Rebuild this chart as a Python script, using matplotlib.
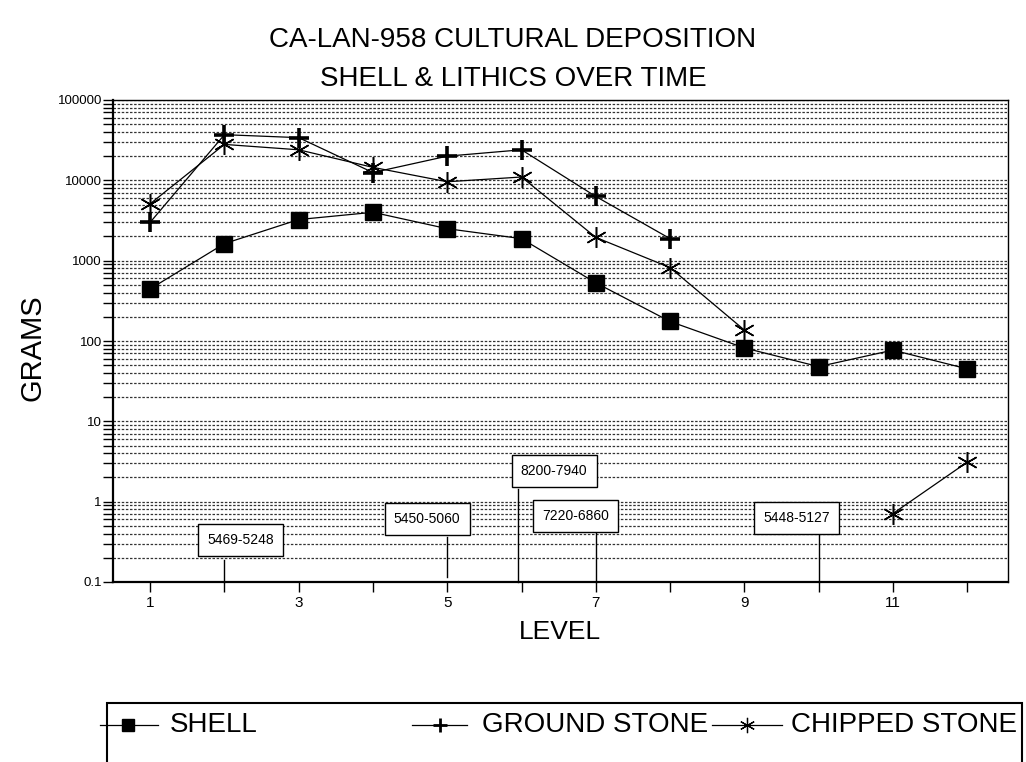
import numpy as np
import matplotlib
matplotlib.use('Agg')
import matplotlib.pyplot as plt
from matplotlib.lines import Line2D
from matplotlib.patches import Rectangle
from matplotlib.ticker import LogLocator, FixedLocator, NullFormatter

plt.rcParams['font.family'] = ['Liberation Sans', 'DejaVu Sans']

# data
levels = np.arange(1, 13)
shell = [445, 1630, 3250, 4000, 2500, 1880, 530, 175, 82, 48, 77, 45]
ground_stone = [3000, 37000, 34000, 12500, 20000, 24000, 6300, 1880,
                np.nan, np.nan, np.nan, np.nan]
chipped_stone = [5100, 28000, 24000, 14500, 9600, 11000, 1950, 820,
                 137, np.nan, 0.71, 3.1]

# radiocarbon date callouts
date_labels = ['5469-5248', '5450-5060', '8200-7940', '7220-6860', '5448-5127']
date_levels = [2, 5, 5.95, 7, 10]

title_lines = ['CA-LAN-958 CULTURAL DEPOSITION', 'SHELL & LITHICS OVER TIME']
y_ticks = [0.1, 1, 10, 100, 1000, 10000, 100000]
y_ticklabels = ['0.1', '1', '10', '100', '1000', '10000', '100000']

W, H = 1026, 762
fig = plt.figure(figsize=(W / 100, H / 100), dpi=100)
ax = fig.add_axes([113 / W, 1 - 582 / H, (1008 - 113) / W, (582 - 100) / H])

styles = {
    'SHELL': dict(marker='s', markersize=11, color='black', lw=0.9),
    'GROUND STONE': dict(marker='+', markersize=14, markeredgewidth=2.6,
                         color='black', lw=0.9),
    'CHIPPED STONE': dict(marker=(6, 2, 0), markersize=15, markeredgewidth=1.1,
                          color='black', lw=0.9),
}
series = {'SHELL': shell, 'GROUND STONE': ground_stone,
          'CHIPPED STONE': chipped_stone}
for name, vals in series.items():
    ax.plot(levels, vals, **styles[name])

ax.set_yscale('log')
ax.set_ylim(0.1, 100000)
ax.set_xlim(0.5, 12.55)

# horizontal grid at every decade subdivision
ax.yaxis.set_major_locator(FixedLocator(y_ticks))
ax.set_yticklabels(y_ticklabels)
ax.yaxis.set_minor_locator(LogLocator(base=10, subs=np.arange(2, 10), numticks=20))
ax.yaxis.set_minor_formatter(NullFormatter())
ax.grid(True, axis='y', which='both', color='0.2', lw=0.9,
        linestyle=(0, (2, 1.3)))
ax.set_axisbelow(True)

ax.set_xticks(levels)
ax.set_xticklabels([str(l) if l % 2 else '' for l in levels])
ax.tick_params(axis='y', which='both', direction='out', length=7, width=1,
               labelsize=9.5, pad=1)
ax.tick_params(axis='x', direction='out', length=7, width=1, labelsize=11, pad=3)

for side, lw in [('left', 1.6), ('bottom', 1.6), ('top', 1.0), ('right', 1.0)]:
    ax.spines[side].set_linewidth(lw)

# callout boxes
box_xy = [(2.22, 0.335), (4.73, 0.61), (6.44, 2.44), (6.73, 0.67), (9.70, 0.63)]
line_tops = [0.19, 0.365, 1.45, 0.41, 0.39]
line_bottoms = [0.1, 0.116, 0.1, 0.1, 0.1]
for lab, lev, (bx, by), top, bot in zip(date_labels, date_levels, box_xy,
                                         line_tops, line_bottoms):
    ax.plot([lev, lev], [bot, top], color='black', lw=1, clip_on=False)
    ax.text(bx, by, lab, ha='center', va='center', fontsize=10, zorder=5,
            bbox=dict(boxstyle='square,pad=0.65', fc='white', ec='black', lw=1))

fig.text(0.5, 1 - 40 / H, title_lines[0], ha='center', va='center', fontsize=20)
fig.text(0.5, 1 - 79 / H, title_lines[1], ha='center', va='center', fontsize=20)
fig.text(32 / W, 1 - 348 / H, 'GRAMS', rotation=90, ha='center', va='center',
         fontsize=21)
fig.text(560 / W, 1 - 632 / H, 'LEVEL', ha='center', va='center', fontsize=19)

# legend drawn as an open box along the bottom edge
fig.patches.append(Rectangle((107 / W, -0.05), (1022 - 107) / W, 0.05 + 1 - 703 / H,
                             transform=fig.transFigure, fill=False,
                             ec='black', lw=1.5))
legend_markers = {
    'SHELL': dict(marker='s', markersize=8),
    'GROUND STONE': dict(marker='+', markersize=10, markeredgewidth=2),
    'CHIPPED STONE': dict(marker=(6, 2, 0), markersize=11, markeredgewidth=0.9),
}
ly = 1 - 725 / H
legend_pos = [('SHELL', 100, 158, 128, 170),
              ('GROUND STONE', 412, 467, 440, 482),
              ('CHIPPED STONE', 712, 782, 747, 791)]
for name, x0, x1, xm, xt in legend_pos:
    fig.add_artist(Line2D([x0 / W, x1 / W], [ly, ly], transform=fig.transFigure,
                          color='black', lw=0.9))
    fig.add_artist(Line2D([xm / W], [ly], transform=fig.transFigure,
                          linestyle='none', color='black', **legend_markers[name]))
    fig.text(xt / W, ly, name, ha='left', va='center', fontsize=20)

fig.savefig('out.png', dpi=100)
